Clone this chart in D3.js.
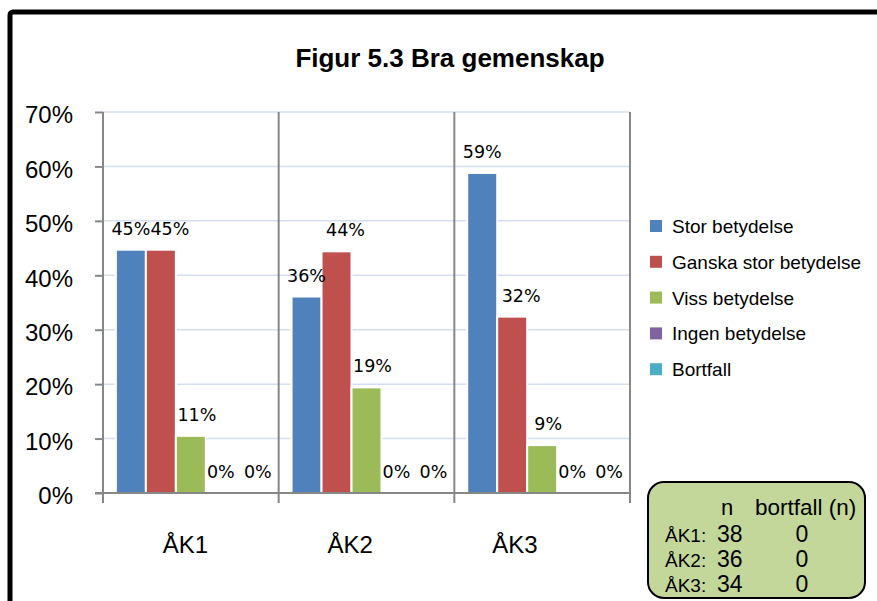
<!DOCTYPE html>
<html>
<head>
<meta charset="utf-8">
<script src="https://cdn.jsdelivr.net/npm/d3@7"></script>
<style>
  body { margin: 0; background: #fff; }
  text { font-family: "Liberation Sans", Arial, sans-serif; }
</style>
</head>
<body>
<div id="my_dataviz"></div>
<script>
// data
let categories = ["ÅK1", "ÅK2", "ÅK3"];
let series = ["Stor betydelse", "Ganska stor betydelse", "Viss betydelse", "Ingen betydelse", "Bortfall"];
let colors = ["#4f81bd", "#c0504d", "#9bbb59", "#8064a2", "#4bacc6"];
// share per category, one array per series
let storValues = [0.447, 0.361, 0.588];
let ganskaValues = [0.447, 0.444, 0.324];
let vissValues = [0.105, 0.194, 0.088];
let ingenValues = [0, 0, 0];
let bortfallValues = [0, 0, 0];
let yTicks = [0, 0.1, 0.2, 0.3, 0.4, 0.5, 0.6, 0.7];
// table in the corner
let nValues = [38, 36, 34];
let nBortfall = [0, 0, 0];

let allValues = [storValues, ganskaValues, vissValues, ingenValues, bortfallValues];
let data = categories.map(function (c, i) {
  return { cat: c, vals: series.map(function (s, j) { return { key: s, idx: j, value: allValues[j][i] }; }) };
});

// labels are nudged right a little in the original so they don't collide
let labelShift = [0, 9, 6, 0, 7];

// set the dimensions and margins of the graph
let margin = {top: 112, right: 247, bottom: 108, left: 103},
  width = 877 - margin.left - margin.right,
  height = 601 - margin.top - margin.bottom;

let root = d3.select("#my_dataviz")
.append("svg")
  .attr("width", 877)
  .attr("height", 601);

root.append("rect")
  .attr("width", 877).attr("height", 601)
  .attr("fill", "#fff");

// black frame, goes past the right and bottom edge
root.append("rect")
  .attr("x", 10).attr("y", 12)
  .attr("width", 900).attr("height", 700)
  .attr("rx", 3)
  .attr("fill", "none")
  .attr("stroke", "#000")
  .attr("stroke-width", 5);

// title
root.append("text")
  .attr("x", 450).attr("y", 67)
  .attr("text-anchor", "middle")
  .style("font-size", "26px")
  .style("font-weight", "bold")
  .text("Figur 5.3 Bra gemenskap");

let svg = root.append("g")
  .attr("transform", "translate(" + margin.left + "," + margin.top + ")");

// scales
let x0 = d3.scaleBand()
  .domain(categories)
  .range([0, width])
  .padding(0);

let x1 = d3.scaleBand()
  .domain(series)
  .range([0, x0.bandwidth()])
  .paddingInner(0)
  .paddingOuter(0.43);

let y = d3.scaleLinear()
  .domain([0, 0.7])
  .range([height, 0]);

// gridlines
svg.append("g")
  .selectAll("line")
  .data(yTicks.slice(1))
  .enter()
  .append("line")
    .attr("x1", 0).attr("x2", width)
    .attr("y1", function (d) { return y(d); })
    .attr("y2", function (d) { return y(d); })
    .attr("stroke", "#d3def0")
    .attr("stroke-width", 1.5);

// category separators
svg.append("g")
  .selectAll("line")
  .data(categories)
  .enter()
  .append("line")
    .attr("x1", function (d) { return x0(d) + x0.bandwidth(); })
    .attr("x2", function (d) { return x0(d) + x0.bandwidth(); })
    .attr("y1", 0).attr("y2", height + 10)
    .attr("stroke", "#878787")
    .attr("stroke-width", 2);

// Add Y axis
let yAxis = svg.append("g")
  .call(d3.axisLeft(y)
    .tickValues(yTicks)
    .tickSize(8)
    .tickPadding(22)
    .tickFormat(d3.format(".0%")));
yAxis.select(".domain").remove();
yAxis.selectAll(".tick line").attr("stroke", "#878787").attr("stroke-width", 2);
yAxis.selectAll(".tick text")
  .attr("dy", "0.45em")
  .style("font-size", "24px")
  .style("font-family", "'Liberation Sans', Arial, sans-serif")
  .attr("fill", "#000");

svg.append("line")
  .attr("x1", 0).attr("x2", 0)
  .attr("y1", 0).attr("y2", height + 10)
  .attr("stroke", "#878787")
  .attr("stroke-width", 2);

// bars
let groups = svg.append("g")
  .selectAll("g")
  .data(data)
  .enter()
  .append("g")
    .attr("transform", function (d) { return "translate(" + x0(d.cat) + ",0)"; });

groups.selectAll("rect")
  .data(function (d) { return d.vals; })
  .enter()
  .append("rect")
    .attr("x", function (d) { return x1(d.key); })
    .attr("y", function (d) { return y(d.value); })
    .attr("width", x1.bandwidth())
    .attr("height", function (d) { return height - y(d.value); })
    .attr("fill", function (d) { return colors[d.idx]; })
    .attr("stroke", "#fff")
    .attr("stroke-width", 2);

// value labels
groups.selectAll("text")
  .data(function (d) { return d.vals; })
  .enter()
  .append("text")
    .attr("x", function (d) { return x1(d.key) + x1.bandwidth() / 2 + labelShift[d.idx]; })
    .attr("y", function (d) { return y(d.value) - 15; })
    .attr("text-anchor", "middle")
    .style("font-family", "'DejaVu Sans', sans-serif")
    .style("font-size", "17.5px")
    .text(function (d) { return d3.format(".0%")(d.value); });

// x axis line
svg.append("line")
  .attr("x1", -8).attr("x2", width)
  .attr("y1", height).attr("y2", height)
  .attr("stroke", "#878787")
  .attr("stroke-width", 2);

// category labels (they sit a bit left of the band centres in the original)
let xLabel = d3.scaleBand()
  .domain(categories)
  .range([0, width * 0.938]);

svg.append("g")
  .selectAll("text")
  .data(categories)
  .enter()
  .append("text")
    .attr("x", function (d) { return xLabel(d) + xLabel.bandwidth() / 2; })
    .attr("y", height + 60)
    .attr("text-anchor", "middle")
    .style("font-size", "24px")
    .text(function (d) { return d; });

// legend
let legend = root.append("g")
  .attr("transform", "translate(650,220)");

let legendRow = legend.selectAll("g")
  .data(series)
  .enter()
  .append("g")
    .attr("transform", function (d, i) { return "translate(0," + (i * 35.8) + ")"; });

legendRow.append("rect")
  .attr("width", 12).attr("height", 12)
  .attr("fill", function (d, i) { return colors[i]; });

legendRow.append("text")
  .attr("x", 22).attr("y", 13)
  .style("font-size", "19px")
  .text(function (d) { return d; });

// n table
let box = root.append("g")
  .attr("transform", "translate(648,482)");

box.append("rect")
  .attr("width", 217).attr("height", 116)
  .attr("rx", 16)
  .attr("fill", "#c4d79b")
  .attr("stroke", "#000")
  .attr("stroke-width", 2);

box.append("text")
  .attr("x", 79).attr("y", 33)
  .attr("text-anchor", "middle")
  .style("font-size", "22px")
  .text("n");

box.append("text")
  .attr("x", 107).attr("y", 33)
  .style("font-size", "22.5px")
  .text("bortfall (n)");

let boxRow = box.selectAll(".row")
  .data(categories)
  .enter()
  .append("g")
    .attr("class", "row")
    .attr("transform", function (d, i) { return "translate(0," + (60 + i * 25) + ")"; });

boxRow.append("text")
  .attr("x", 17)
  .style("font-size", "19px")
  .text(function (d) { return d + ":"; });

boxRow.append("text")
  .attr("x", 69)
  .style("font-size", "23px")
  .text(function (d, i) { return nValues[i]; });

boxRow.append("text")
  .attr("x", 154)
  .attr("text-anchor", "middle")
  .style("font-size", "23px")
  .text(function (d, i) { return nBortfall[i]; });
</script>
</body>
</html>
